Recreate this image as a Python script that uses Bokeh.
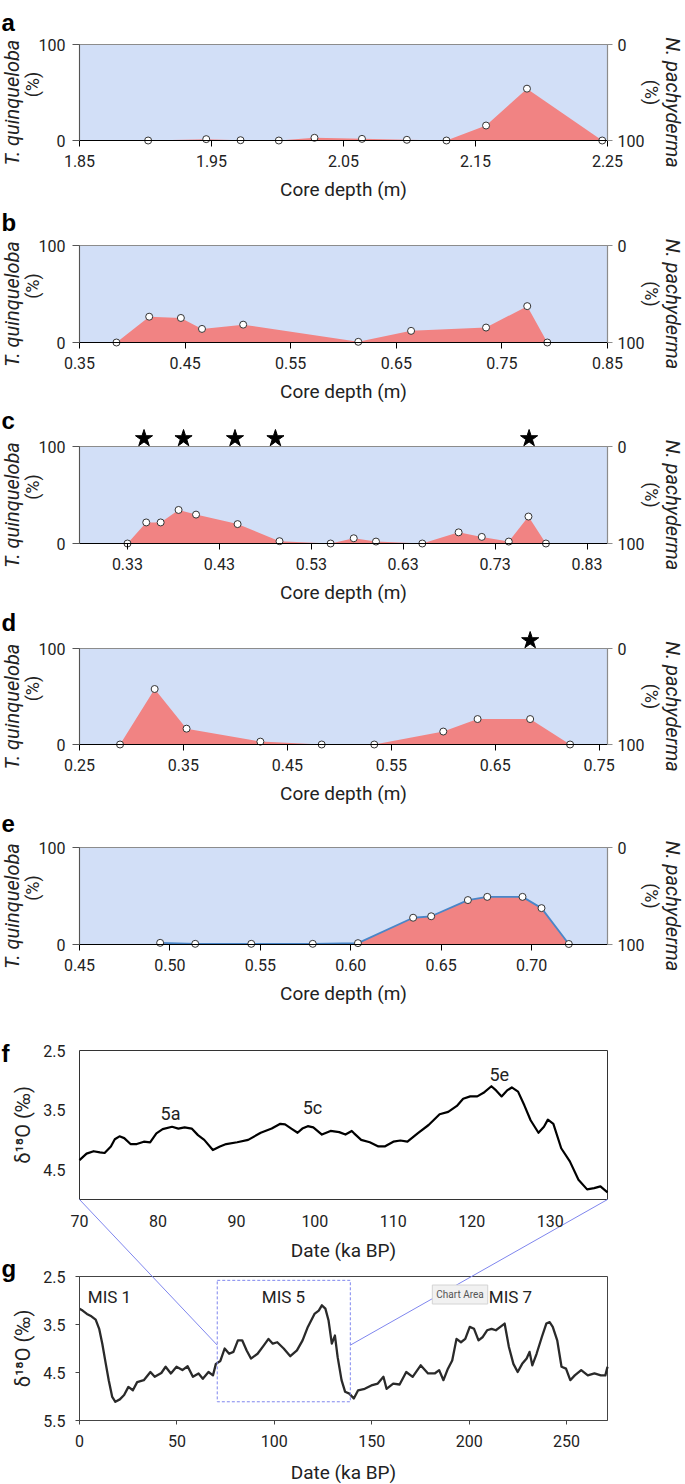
import math
from bokeh.plotting import figure
from bokeh.models import (Range1d, LinearAxis, FixedTicker, Label,
                          NumeralTickFormatter)
from bokeh.embed import file_html
from bokeh.resources import INLINE
from bokeh.core.properties import value

# ---------------- data ----------------
a_depth = [1.902, 1.946, 1.972, 2.001, 2.028, 2.064, 2.098, 2.128, 2.158, 2.189, 2.246]
a_tq = [0, 1.4, 0.3, 0, 2.8, 1.7, 0.7, 0, 15.6, 54, 0]
a_ticks = [1.85, 1.95, 2.05, 2.15, 2.25]

b_depth = [0.385, 0.416, 0.446, 0.466, 0.505, 0.614, 0.664, 0.735, 0.774, 0.793]
b_tq = [0, 26.6, 25.3, 14, 18.4, 0.7, 12, 15.4, 37.5, 0]
b_ticks = [0.35, 0.45, 0.55, 0.65, 0.75, 0.85]

c_depth = [0.330, 0.3504, 0.3661, 0.3856, 0.4046, 0.4498, 0.4954, 0.551,
           0.5762, 0.6004, 0.6508, 0.6903, 0.7155, 0.7449, 0.7663, 0.7853]
c_tq = [0, 21.7, 21.7, 34.6, 29.8, 20, 2.4, 0, 5.4, 2, 0, 11.5, 6.8, 2, 27.8, 0]
c_ticks = [0.33, 0.43, 0.53, 0.63, 0.73, 0.83]
c_stars = [0.348, 0.391, 0.447, 0.491, 0.767]

d_depth = [0.289, 0.3223, 0.353, 0.424, 0.483, 0.5336, 0.600, 0.633, 0.6836, 0.722]
d_tq = [0, 57.8, 16.5, 3, 0, 0, 13.5, 26.5, 26.5, 0]
d_ticks = [0.25, 0.35, 0.45, 0.55, 0.65, 0.75]
d_stars = [0.6836]

e_depth = [0.4946, 0.514, 0.545, 0.579, 0.604, 0.6345, 0.6445, 0.6648,
           0.6755, 0.695, 0.7055, 0.7206]
e_tq = [1.7, 0.7, 0.7, 0.7, 1.4, 27.6, 29.1, 45.8, 49.1, 49.1, 37.5, 0.5]
e_ticks = [0.45, 0.50, 0.55, 0.60, 0.65, 0.70]

f_age = [70, 70.9, 71.8, 72.6, 73.2, 74, 74.5, 75.1, 75.7, 76.5,
         77.3, 78.2, 79, 79.8, 80.6, 81.8, 82.6, 83.4, 84.3, 85.1,
         85.9, 87, 87.9, 88.7, 90.1, 91.5, 93.1, 94.5, 95.6, 96.2,
         97, 97.8, 98.4, 99.1, 99.8, 100.9, 102, 103.1, 103.9, 104.7,
         105, 105.9, 107, 108.1, 108.9, 110, 110.9, 111.8, 113.1, 114.5,
         115.9, 117, 118.1, 118.9, 119.8, 120.7, 121.5, 122.5, 123.1, 123.8,
         124.5, 125.1, 125.9, 126.7, 127.5, 128.5, 129.2, 129.7, 130.4, 131.4,
         132.5, 133.6, 134.7, 135.6, 136.4, 137.3]
f_d18o = [4.34, 4.23, 4.19, 4.21, 4.22, 4.11, 3.99, 3.94, 3.97, 4.07,
          4.07, 4.03, 4.04, 3.89, 3.82, 3.78, 3.81, 3.79, 3.81, 3.92,
          4.00, 4.17, 4.11, 4.07, 4.04, 4.00, 3.88, 3.81, 3.73, 3.74,
          3.81, 3.88, 3.81, 3.77, 3.79, 3.91, 3.85, 3.87, 3.91, 3.85,
          3.89, 4.00, 4.04, 4.11, 4.11, 4.03, 4.01, 4.03, 3.89, 3.75,
          3.57, 3.53, 3.43, 3.31, 3.27, 3.27, 3.21, 3.10, 3.17, 3.27,
          3.17, 3.12, 3.19, 3.42, 3.67, 3.88, 3.78, 3.66, 3.73, 4.14,
          4.36, 4.67, 4.83, 4.81, 4.78, 4.88]
f_ticks = [70, 80, 90, 100, 110, 120, 130]
f_yticks = [2.5, 3.5, 4.5]
f_substages = ["5a", "5c", "5e"]
f_substage_age = [81.6, 99.7, 123.5]
f_substage_d18o = [3.56, 3.46, 2.90]

g_age = [0, 1.6, 3.8, 6.1, 8.3, 10.1, 11.7, 13.5, 15, 16.8,
         18.4, 20.7, 22.9, 25.1, 27.4, 29.6, 33, 36.4, 38.6, 42,
         44.2, 46.9, 49.8, 52.8, 55.5, 58.2, 61.1, 63.3, 66.2, 68.5,
         70, 72.3, 74.5, 76.8, 79, 81.3, 83.5, 85.8, 88, 91.4,
         94.7, 97, 99.2, 101.5, 104.8, 108.2, 111.6, 114.5, 117.2, 120.6,
         122.8, 124.4, 126.2, 127.8, 129.5, 131.1, 132.5, 134.5, 136.3, 138.5,
         140.8, 143, 146.4, 149.8, 153.1, 156, 157.6, 161, 164.3, 167.7,
         171, 175.1, 178.9, 182.3, 184.6, 186.8, 189.1, 191.3, 193.5, 195.8,
         198, 200.3, 202.5, 204.8, 207, 209.2, 211.5, 213.7, 216, 218.2,
         220.4, 222.7, 224.9, 227.2, 229.5, 231, 232.4, 234.6, 237.3, 239.6,
         241.3, 242.9, 245.2, 247.4, 249.7, 251.9, 254.2, 257.5, 260.9, 264.3,
         267.6, 269.9, 271]
g_d18o = [3.17, 3.21, 3.28, 3.33, 3.40, 3.59, 3.90, 4.32, 4.66, 5.01,
          5.11, 5.06, 4.97, 4.80, 4.87, 4.70, 4.66, 4.49, 4.59, 4.51,
          4.38, 4.52, 4.38, 4.45, 4.37, 4.59, 4.52, 4.63, 4.49, 4.56,
          4.32, 4.26, 4.00, 4.11, 4.07, 3.83, 3.83, 4.04, 4.21, 4.11,
          3.93, 3.80, 3.90, 3.87, 4.00, 4.16, 4.04, 3.83, 3.55, 3.28,
          3.21, 3.10, 3.17, 3.41, 3.90, 3.73, 4.18, 4.66, 4.90, 4.94,
          5.04, 4.87, 4.84, 4.77, 4.73, 4.59, 4.84, 4.73, 4.75, 4.49,
          4.59, 4.35, 4.52, 4.52, 4.45, 4.66, 4.42, 4.25, 3.80, 3.87,
          3.80, 3.55, 3.59, 3.83, 3.76, 3.62, 3.59, 3.62, 3.55, 3.48,
          3.97, 4.32, 4.49, 4.32, 4.21, 4.07, 4.35, 4.11, 3.76, 3.48,
          3.45, 3.55, 3.83, 4.38, 4.42, 4.66, 4.56, 4.45, 4.56, 4.52,
          4.56, 4.56, 4.38]
g_ticks = [0, 50, 100, 150, 200, 250]
g_yticks = [2.5, 3.5, 4.5, 5.5]
g_stages = ["MIS 1", "MIS 5", "MIS 7"]
g_stage_age = [15.4, 104.7, 221.2]
g_stage_d18o = [2.92, 2.92, 2.92]
mis5_left, mis5_right, mis5_top, mis5_bottom = 70.7, 139.0, 2.58, 5.11
mis5_link_d18o = 3.93

# ---------------- layout / style ----------------
FONT = "Roboto"
CW, CH = 685, 1484
X0, X1 = 79, 607
FRAMES = {"a": (44, 140), "b": (245, 342), "c": (446, 543), "d": (648, 744),
          "e": (847, 944), "f": (1050, 1199), "g": (1276, 1420)}
LETTER_BASE = {"a": 22, "b": 222, "c": 420, "d": 622, "e": 823,
               "f": 1053, "g": 1268}
BG = "#d2dff7"
RED = "#f18383"
INK = "#222222"
BOXBLUE = "#7f86ee"
STAR_RAISE = 8  # px above frame top

p = figure(width=CW, height=CH, x_range=Range1d(0, CW), y_range=Range1d(CH, 0),
           x_axis_location=None, y_axis_location=None, toolbar_location=None,
           output_backend="svg", min_border=0, title=None)
p.grid.visible = False
p.outline_line_color = None
p.background_fill_color = "white"
p.border_fill_color = "white"

XR, YR = {}, {}


def hrange(v0, v1):
    s = (v1 - v0) / (X1 - X0)
    return Range1d(v0 - X0 * s, v1 + (CW - X1) * s)


def vrange(lo, hi, top, bot):
    s = (hi - lo) / (bot - top)
    return Range1d(lo - (CH - bot) * s, hi + top * s)


def axis(side, xn, yn, loc, bounds, ticks, fmt=None, out=6, standoff=6,
         color=INK, size="16px"):
    ax = LinearAxis(x_range_name=xn, y_range_name=yn, fixed_location=loc,
                    bounds=bounds, ticker=FixedTicker(ticks=ticks))
    if fmt:
        ax.formatter = NumeralTickFormatter(format=fmt)
    ax.major_label_text_font = FONT
    ax.major_label_text_font_size = size
    ax.major_label_text_color = INK
    ax.major_tick_in = 0
    ax.major_tick_out = out
    ax.minor_tick_line_color = None
    ax.axis_line_color = color
    ax.major_tick_line_color = color
    ax.major_label_standoff = standoff
    p.add_layout(ax, side)
    return ax


def text(x, y, s, size="19px", angle=0.0, style="normal", font=FONT,
         align="center", baseline="middle", color=INK):
    p.add_layout(Label(x=x, y=y, text=s, angle=angle, text_font=font,
                       text_font_size=size, text_font_style=style,
                       text_align=align, text_baseline=baseline,
                       text_color=color))


def letter(key):
    text(1, LETTER_BASE[key], key, size="24px", style="bold",
         font="Liberation Sans", align="left", baseline="alphabetic",
         color="black")


def foram(key, depth, tq, xlim, ticks, stars=None, blue=False):
    top, bot = FRAMES[key]
    xn, yn, rn = key + "x", key + "y", key + "r"
    XR[xn] = hrange(*xlim)
    YR[yn] = vrange(0, 100, top, bot)
    YR[rn] = vrange(100, 0, top, bot)
    kw = dict(x_range_name=xn, y_range_name=yn)
    p.quad(left=[xlim[0]], right=[xlim[1]], bottom=[0], top=[100],
           fill_color=BG, line_color="#8c8c8c", line_width=1.2, **kw)
    p.varea(x=depth, y1=0, y2=tq, fill_color=RED, **kw)
    if blue:
        p.line(depth, tq, line_color="#4a86c8", line_width=1.8, **kw)
    p.scatter(depth, tq, size=7, fill_color="white", line_color="#333333",
              line_width=1, **kw)
    if stars:
        sy = 100 + STAR_RAISE * 100 / (bot - top)
        p.scatter(stars, [sy] * len(stars), marker="star", size=18,
                  fill_color="black", line_color="black", **kw)

    axis("below", xn, yn, 0, (xlim[0], xlim[1]), ticks, fmt="0.00",
         out=6, standoff=8, color="black")
    axis("left", xn, yn, xlim[0], (0, 100), [0, 100], out=7, standoff=7,
         color="#555555")
    axis("right", xn, rn, xlim[1], (0, 100), [0, 100], out=5, standoff=5,
         color="#8c8c8c")

    cy = (top + bot) / 2
    text((X0 + X1) / 2, bot + 49, "Core depth (m)", size="19px")
    text(11, cy + 10, "T. quinqueloba", size="20px", angle=math.pi / 2,
         style="italic")
    text(32, cy - 8, "(%)", size="18px", angle=math.pi / 2)
    text(651, cy, "(%)", size="18px", angle=-math.pi / 2)
    text(672, cy + 10, "N. pachyderma", size="20px", angle=-math.pi / 2,
         style="italic")
    letter(key)


foram("a", a_depth, a_tq, (1.85, 2.25), a_ticks)
foram("b", b_depth, b_tq, (0.35, 0.85), b_ticks)
foram("c", c_depth, c_tq, (0.2778, 0.8523), c_ticks, stars=c_stars)
foram("d", d_depth, d_tq, (0.25, 0.758), d_ticks, stars=d_stars)
foram("e", e_depth, e_tq, (0.45, 0.742), e_ticks, blue=True)

# ---------------- f ----------------
F_X, F_Y = (70, 137.3), (5.0, 2.5)
ftop, fbot = FRAMES["f"]
XR["fx"] = hrange(*F_X)
YR["fy"] = vrange(F_Y[0], F_Y[1], ftop, fbot)
fkw = dict(x_range_name="fx", y_range_name="fy")
p.quad(left=[F_X[0]], right=[F_X[1]], bottom=[F_Y[0]], top=[F_Y[1]],
       fill_color=None, line_color="#333333", line_width=1, **fkw)
p.line(f_age, f_d18o, line_color="black", line_width=2.2, line_join="round",
       **fkw)
p.text(x=f_substage_age, y=f_substage_d18o, text=f_substages,
       text_font=value(FONT), text_font_size="18px", text_color=INK,
       text_align="center", text_baseline="middle", **fkw)
axis("below", "fx", "fy", F_Y[0], F_X, f_ticks, out=0, standoff=15,
     color=None)
axis("left", "fx", "fy", F_X[0], (2.5, 5.0), f_yticks, fmt="0.0", out=0,
     standoff=14, color=None)
text((X0 + X1) / 2, fbot + 51, "Date (ka BP)", size="19px")
text(22, (ftop + fbot) / 2, "\u03b4\u00b9\u2078O (\u2030)", size="20px",
     angle=math.pi / 2)
letter("f")

# ---------------- g ----------------
G_X, G_Y = (0, 271), (5.5, 2.5)
gtop, gbot = FRAMES["g"]
XR["gx"] = hrange(*G_X)
YR["gy"] = vrange(G_Y[0], G_Y[1], gtop, gbot)
gkw = dict(x_range_name="gx", y_range_name="gy")
p.quad(left=[G_X[0]], right=[G_X[1]], bottom=[G_Y[0]], top=[G_Y[1]],
       fill_color=None, line_color="#444444", line_width=1, **gkw)
p.line(g_age, g_d18o, line_color="#2a2a2a", line_width=2.3,
       line_join="round", **gkw)
p.quad(left=[mis5_left], right=[mis5_right], top=[mis5_top],
       bottom=[mis5_bottom], fill_color=None, line_color=BOXBLUE,
       line_dash="3 2", line_width=1, **gkw)
p.text(x=g_stage_age, y=g_stage_d18o, text=g_stages, text_font=value(FONT),
       text_font_size="17px", text_color=INK, text_align="center",
       text_baseline="middle", **gkw)
p.add_layout(Label(x=195.3, y=2.875, text="Chart Area", text_font=FONT,
                   text_font_size="10px", text_color="#555555",
                   text_align="center", text_baseline="middle",
                   background_fill_color="#f1f1f1",
                   border_line_color="#d4d4d4", padding=4, **gkw))
axis("below", "gx", "gy", G_Y[0], G_X, g_ticks, out=4, standoff=10,
     color="#444444")
axis("left", "gx", "gy", G_X[0], (2.5, 5.5), g_yticks, fmt="0.0", out=4,
     standoff=10, color="#444444")
text((X0 + X1) / 2, gbot + 52, "Date (ka BP)", size="19px")
text(22, (gtop + gbot) / 2, "\u03b4\u00b9\u2078O (\u2030)", size="20px",
     angle=math.pi / 2)
letter("g")


# ---------------- zoom connector: f corners -> MIS 5 box ----------------
def conv(v, r_from, r_to):
    frac = (v - r_from.start) / (r_from.end - r_from.start)
    return r_to.start + frac * (r_to.end - r_to.start)


x0s = [F_X[0], F_X[1]]
y0s = [F_Y[0], F_Y[0]]
x1s = [conv(mis5_left, XR["gx"], XR["fx"]), conv(mis5_right, XR["gx"], XR["fx"])]
y1s = [conv(mis5_link_d18o, YR["gy"], YR["fy"])] * 2
p.segment(x0=x0s, y0=y0s, x1=x1s, y1=y1s, line_color=BOXBLUE, line_width=1,
          **fkw)

p.extra_x_ranges = XR
p.extra_y_ranges = YR

open("out.html", "w").write(file_html(p, INLINE))
